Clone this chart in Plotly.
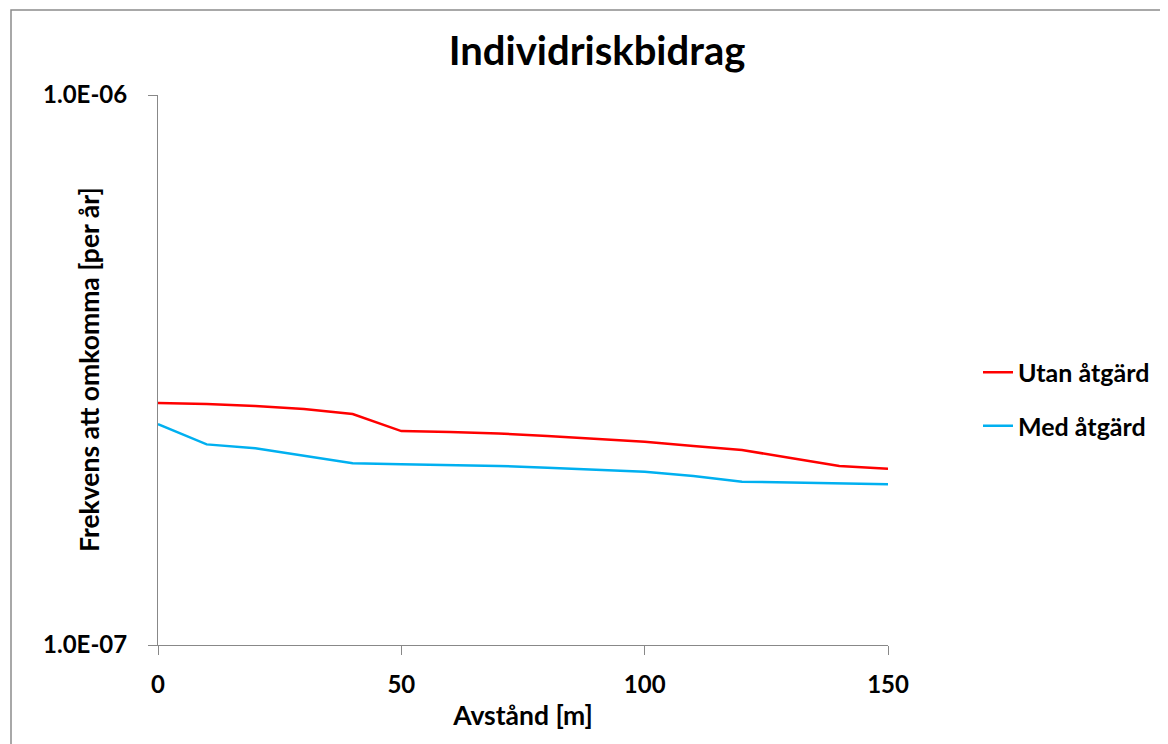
import plotly.graph_objects as go

distance = [0, 10, 20, 30, 40, 50, 60, 70, 80, 90, 100, 110, 120, 130, 140, 150]
utan_atgard = [2.754e-7, 2.742e-7, 2.719e-7, 2.685e-7, 2.630e-7, 2.449e-7, 2.439e-7, 2.425e-7,
               2.399e-7, 2.369e-7, 2.342e-7, 2.300e-7, 2.262e-7, 2.188e-7, 2.116e-7, 2.092e-7]
med_atgard = [2.522e-7, 2.316e-7, 2.278e-7, 2.207e-7, 2.140e-7, 2.131e-7, 2.125e-7, 2.116e-7,
              2.101e-7, 2.085e-7, 2.066e-7, 2.029e-7, 1.981e-7, 1.975e-7, 1.968e-7, 1.960e-7]
y_tickvals = [1e-7, 1e-6]
y_ticktext = ["1.0E-07", "1.0E-06"]
x_tickvals = [0, 50, 100, 150]

FONT = "Lato, 'Open Sans', sans-serif"
OFF = 8  # page body margin
W, H = 1168, 744
L, T = 158 - OFF, 95 - OFF
PW, PH = 730, 550

fig = go.Figure()
fig.add_trace(go.Scatter(x=distance, y=utan_atgard, mode="lines", name="Utan åtgärd",
                         line=dict(color="#FF0000", width=2.5), legendgroup="a"))
fig.add_trace(go.Scatter(x=distance, y=med_atgard, mode="lines", name="Med åtgärd",
                         line=dict(color="#00B0F0", width=2.5), legendgroup="b"))

def bold(size):
    return dict(size=size, family=FONT, color="black", weight="bold")

fig.update_layout(
    width=W, height=H,
    margin=dict(l=L, r=W - L - PW, t=T, b=H - T - PH, autoexpand=False),
    paper_bgcolor="white", plot_bgcolor="white",
    font=dict(family=FONT, color="black"),
    title=dict(text="Individriskbidrag", x=(597 - OFF) / W, xanchor="center",
               y=1 - (51 - OFF) / H, yanchor="middle", font=bold(40)),
    showlegend=True,
    legend=dict(x=(978 - 158) / PW, y=(645 - 399) / PH, xanchor="left", yanchor="middle",
                font=bold(25), tracegroupgap=18, bgcolor="rgba(0,0,0,0)", itemwidth=30),
    xaxis=dict(range=[0, 150], tickvals=x_tickvals, showgrid=False, zeroline=False,
               showline=True, linecolor="#888888", linewidth=1,
               ticks="outside", ticklen=9, tickcolor="#888888",
               tickfont=bold(24), ticklabelstandoff=9,
               title=dict(text="<b>Avstånd [m]</b>", font=bold(26.5), standoff=9)),
    yaxis=dict(type="log", range=[-7, -6], tickvals=y_tickvals, ticktext=y_ticktext,
               showgrid=False, zeroline=False,
               showline=True, linecolor="#888888", linewidth=1,
               ticks="outside", ticklen=9, tickcolor="#888888",
               tickfont=bold(24), ticklabelstandoff=16),
)

fig.add_annotation(text="<b>Frekvens att omkomma [per år]</b>", textangle=-90,
                   xref="paper", yref="paper", x=(89 - 158) / PW, y=0.5,
                   xanchor="center", yanchor="middle", showarrow=False, font=bold(26.5))

fig.add_shape(type="rect", xref="paper", yref="paper",
              x0=(11 - 158) / PW, x1=(1200 - 158) / PW,
              y0=(645 - 800) / PH, y1=(645 - 10) / PH,
              line=dict(color="#8c8c8c", width=1.5), fillcolor="rgba(0,0,0,0)", layer="below")

fig.write_html("out.html")
